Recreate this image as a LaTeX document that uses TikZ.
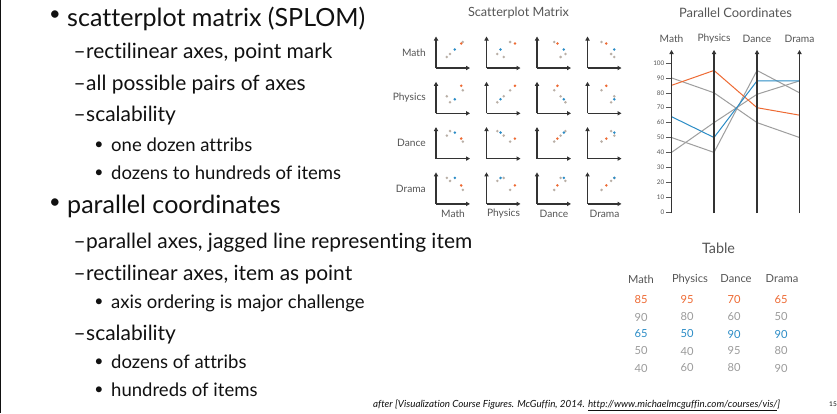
\documentclass[tikz,border=0pt]{standalone}
\usepackage{fontspec}
\setmainfont{Lato}[Ligatures=NoCommon]
\usetikzlibrary{arrows.meta,calc}
\definecolor{ink}{HTML}{111111}
\definecolor{orng}{HTML}{EE6A33}
\definecolor{blu}{HTML}{2B8CC6}
\definecolor{dotgray}{HTML}{B9AFA6}
\definecolor{linegray}{HTML}{9E9E9E}
\definecolor{axisdark}{HTML}{333333}
\definecolor{labgray}{HTML}{555555}
\definecolor{tabgray}{HTML}{9B9B9B}

% font sizes chosen so that a sample line takes a given width (in pt)
\newlength\fitw
\newcommand\fitsize[4]{\settowidth\fitw{\fontsize{10}{12}\selectfont#3#4}\pgfmathsetmacro#1{10*#2/\fitw}}
\AtBeginDocument{%
  \fitsize\szone{298}{}{scatterplot matrix (SPLOM)}%
  \fitsize\sztwo{266}{}{rectilinear axes, item as point}%
  \fitsize\szthree{230}{}{dozens to hundreds of items}%
  \fitsize\szsmtitle{101}{}{Scatterplot Matrix}%
  \fitsize\szpctitle{113}{}{Parallel Coordinates}%
  \fitsize\szlabel{33}{}{Physics}%
  \fitsize\sztick{11}{}{100}%
  \fitsize\sztabtitle{33}{}{Table}%
  \fitsize\szcell{36}{}{Physics}%
  \fitsize\szcite{407}{\itshape}{after [Visualization Course Figures. McGuffin, 2014. http://www.michaelmcguffin.com/courses/vis/]}%
  \pgfmathsetmacro\szbulone{0.8*\szone}%
  \pgfmathsetmacro\szbulthree{0.85*\szthree}%
}

\tikzset{
  lvlone/.style={anchor=base west, inner sep=0pt, text=ink, font=\fontsize{\szone}{\szone}\selectfont},
  lvltwo/.style={anchor=base west, inner sep=0pt, text=ink, font=\fontsize{\sztwo}{\sztwo}\selectfont},
  lvlthree/.style={anchor=base west, inner sep=0pt, text=ink, font=\fontsize{\szthree}{\szthree}\selectfont},
  bulletone/.style={inner sep=0pt, text=ink, font=\fontsize{\szbulone}{\szbulone}\selectfont},
  bulletthree/.style={inner sep=0pt, text=ink, font=\fontsize{\szbulthree}{\szbulthree}\selectfont},
  smtitlestyle/.style={inner sep=0pt, text=labgray, font=\fontsize{\szsmtitle}{\szsmtitle}\selectfont},
  pctitlestyle/.style={inner sep=0pt, text=labgray, font=\fontsize{\szpctitle}{\szpctitle}\selectfont},
  chartlabel/.style={inner sep=0pt, text=labgray, font=\fontsize{\szlabel}{\szlabel}\selectfont},
  ticklabel/.style={anchor=east, inner sep=0pt, text=labgray, font=\fontsize{\sztick}{\sztick}\selectfont},
  cell/.style={inner sep=0pt, font=\fontsize{\szcell}{\szcell}\selectfont},
  axisline/.style={draw=axisdark, line width=1.2pt, -{Triangle[length=4pt,width=4.2pt]}},
  dot/.style={circle, inner sep=0pt, minimum size=2.8pt},
  pcline/.style={line width=1pt, line join=round},
}

\begin{document}
\begin{tikzpicture}[x=1pt,y=-1pt]
\useasboundingbox (0,0) rectangle (837,413);
\fill[white] (0,0) rectangle (837,413);
% slide frame edge
\draw[ink, line width=1.2pt] (0.6,0) -- (0.6,413);

% ---------------- bullet list ----------------
\node[bulletone] (b1) at (55,16) {•};
\node[lvlone] (t1) at (67,26) {scatterplot matrix (SPLOM)};
\node[lvltwo] (d2) at (73.5,58.3) {–};
\node[lvltwo] (t2) at (86,58.3) {rectilinear axes, point mark};
\node[lvltwo] (d3) at (73.5,90) {–};
\node[lvltwo] (t3) at (86,90) {all possible pairs of axes};
\node[lvltwo] (d4) at (73.5,121.7) {–};
\node[lvltwo] (t4) at (86,121.7) {scalability};
\node[bulletthree] (b5) at (99,146) {•};
\node[lvlthree] (t5) at (111,151.7) {one dozen attribs};
\node[bulletthree] (b6) at (99,173.3) {•};
\node[lvlthree] (t6) at (111,179) {dozens to hundreds of items};
\node[bulletone] (b7) at (55,203.3) {•};
\node[lvlone] (t7) at (67,213.3) {parallel coordinates};
\node[lvltwo] (d8) at (73.5,248.3) {–};
\node[lvltwo] (t8) at (86,248.3) {parallel axes, jagged line representing item};
\node[lvltwo] (d9) at (73.5,280) {–};
\node[lvltwo] (t9) at (86,280) {rectilinear axes, item as point};
\node[bulletthree] (b10) at (99,302.6) {•};
\node[lvlthree] (t10) at (111,308.3) {axis ordering is major challenge};
\node[lvltwo] (d11) at (73.5,340) {–};
\node[lvltwo] (t11) at (86,340) {scalability};
\node[bulletthree] (b12) at (99,362.6) {•};
\node[lvlthree] (t12) at (111,368.3) {dozens of attribs};
\node[bulletthree] (b13) at (99,391) {•};
\node[lvlthree] (t13) at (111,396.7) {hundreds of items};

% ---------------- scatterplot matrix ----------------
\node[smtitlestyle] (smtitle) at (518.5,13) {Scatterplot Matrix};
\foreach \r/\name in {0/Math,1/Physics,2/Dance,3/Drama} {
  \node[chartlabel, anchor=east] (row\r) at (426,{68+45.3*\r-15.5}) {\name};
  \node[chartlabel] (col\r) at ({436+50.5*\r+17},214) {\name};
}
\foreach \r in {0,...,3} {
  \foreach \c in {0,...,3} {
    \coordinate (o\r\c) at ({436+50.5*\c},{68+45.3*\r});
    \coordinate (u\r\c) at ({436+50.5*\c},{68+45.3*\r-31.5});
    \coordinate (h\r\c) at ({436+50.5*\c+34},{68+45.3*\r});
    \draw[axisline] (o\r\c) -- (u\r\c);
    \draw[axisline] (o\r\c) -- (h\r\c);
    \foreach \col/\vals in {dotgray/{90,80,60,50},dotgray/{50,40,95,80},dotgray/{40,60,80,90},blu/{65,50,90,90},orng/{85,95,70,65}} {
      \pgfmathsetmacro\vx{{\vals}[\c]}
      \pgfmathsetmacro\vy{{\vals}[\r]}
      \node[dot, fill=\col] at ($(o\r\c)+({0.32*\vx-2},{-(0.30*\vy-1)})$) {};
    }
  }
}

% ---------------- parallel coordinates ----------------
\node[pctitlestyle] (pctitle) at (735.5,13) {Parallel Coordinates};
\foreach \i/\name/\xx in {0/Math/671.5,1/Physics/714,2/Dance/757,3/Drama/799.5} {
  \coordinate (pb\i) at (\xx,213);
  \coordinate (pt\i) at (\xx,50);
  \node[chartlabel] (pl\i) at (\xx,39) {\name};
}
\foreach \v in {0,10,...,100} {
  \coordinate (tk\v) at (666,{212-1.49*\v});
  \coordinate (tkend\v) at (671.5,{212-1.49*\v});
  \draw[labgray, line width=0.6pt] (tk\v) -- (tkend\v);
  \node[ticklabel] (tl\v) at (664.5,{212-1.49*\v}) {\v};
}
\foreach \col/\a/\b/\c/\d in {linegray/90/80/60/50, linegray/50/40/95/80, linegray/40/60/79/88, orng/85/95/70/65, blu/64/50/88/88} {
  \draw[pcline, \col] (671.5,{212-1.49*\a}) -- (714,{212-1.49*\b}) -- (757,{212-1.49*\c}) -- (799.5,{212-1.49*\d});
}
\foreach \i in {0,...,3} { \draw[axisline] (pb\i) -- (pt\i); }

% ---------------- table ----------------
\node[inner sep=0pt, text=labgray, font=\fontsize{\sztabtitle}{\sztabtitle}\selectfont] (tbtitle) at (718.5,248) {Table};
\foreach \i/\name/\xx in {0/Math/641,1/Physics/690,2/Dance/736,3/Drama/782} {
  \node[cell, text=labgray] (th\i) at (\xx,279) {\name};
}
\foreach \row/\col/\a/\b/\c/\d in {0/orng/85/95/70/65, 1/tabgray/90/80/60/50, 2/blu/65/50/90/90, 3/tabgray/50/40/95/80, 4/tabgray/40/60/80/90} {
  \node[cell, text=\col] (td\row a) at (641,{300+17*\row}) {\a};
  \node[cell, text=\col] (td\row b) at (687,{300+17*\row}) {\b};
  \node[cell, text=\col] (td\row c) at (734,{300+17*\row}) {\c};
  \node[cell, text=\col] (td\row d) at (781,{300+17*\row}) {\d};
}

% ---------------- footer ----------------
\node[anchor=base west, inner sep=0pt, text=ink, font=\fontsize{\szcite}{\szcite}\selectfont\itshape] (cite) at (373,407)
  {after [Visualization Course Figures. McGuffin, 2014. \underline{http://www.michaelmcguffin.com/courses/vis/}]};
\node[inner sep=0pt, text=ink, font=\fontsize{6.5}{6.5}\selectfont] (pageno) at (833,404) {15};
\end{tikzpicture}
\end{document}
